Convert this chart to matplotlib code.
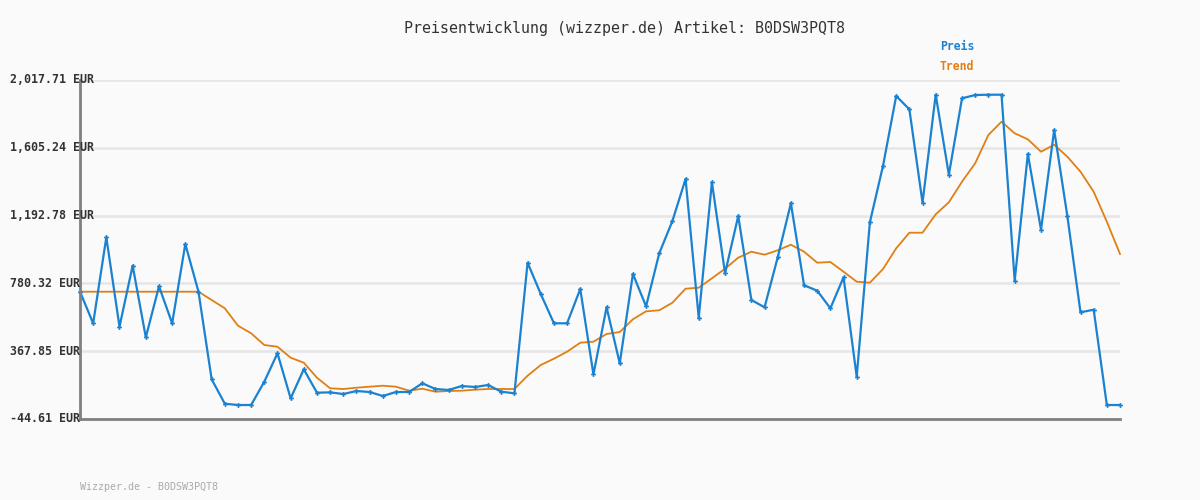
import numpy as np
import matplotlib
matplotlib.use("Agg")
import matplotlib.pyplot as plt
from matplotlib.transforms import blended_transform_factory

title = "Preisentwicklung (wizzper.de) Artikel: B0DSW3PQT8"
footer = "Wizzper.de - B0DSW3PQT8"
y_ticks = [-44.61, 367.85, 780.32, 1192.78, 1605.24, 2017.71]
y_labels = ["-44.61 EUR", "367.85 EUR", "780.32 EUR", "1,192.78 EUR",
            "1,605.24 EUR", "2,017.71 EUR"]

preis = [
    729.8, 537.6, 1060.7, 516.9, 888.0, 452.4, 762.6, 537.6, 1020.0, 729.8,
    196.9, 48.4, 40.5, 40.5, 182.3, 355.0, 81.3, 257.7, 115.4, 117.4,
    107.4, 125.7, 119.6, 95.3, 119.6, 119.6, 172.5, 137.9, 131.8, 156.1,
    150.0, 162.2, 121.4, 111.7, 906.2, 715.8, 537.6, 537.6, 746.2, 227.3,
    634.9, 294.2, 837.5, 641.0, 963.4, 1159.9, 1415.4, 571.7, 1395.3, 841.7,
    1190.3, 679.3, 634.9, 939.1, 1267.6, 768.7, 735.9, 628.8, 817.4, 212.7,
    1152.0, 1496.3, 1920.4, 1839.5, 1271.2, 1928.3, 1441.6, 1906.4, 1926.4, 1928.3,
    1928.3, 796.7, 1567.5, 1107.0, 1713.5, 1190.3, 604.5, 620.3, 40.5, 40.5,
]

trend = [
    729.8, 729.8, 729.8, 729.8, 729.8, 729.8, 729.8, 729.8, 729.8, 729.8,
    679.3, 628.8, 523.0, 476.7, 405.5, 395.2, 328.3, 297.9, 206.6, 142.1,
    137.9, 145.8, 151.9, 158.0, 151.9, 127.5, 139.7, 121.4, 125.7, 127.5,
    133.6, 137.9, 137.9, 137.9, 218.8, 283.9, 322.2, 364.8, 419.5, 425.6,
    472.5, 484.6, 561.9, 610.6, 616.6, 662.9, 748.1, 754.1, 811.3, 869.7,
    936.7, 973.2, 954.9, 981.7, 1015.7, 973.2, 906.2, 910.5, 851.5, 790.7,
    784.6, 867.9, 993.8, 1088.7, 1088.7, 1200.7, 1273.7, 1399.0, 1510.9, 1683.1,
    1764.0, 1693.4, 1656.9, 1581.5, 1624.1, 1551.1, 1459.8, 1338.2, 1155.7, 959.2,
]

blue = "#1a82d0"
orange = "#e07f14"
bg = "#fafafa"

fig = plt.figure(figsize=(12, 5), dpi=100, facecolor=bg)
ax = fig.add_axes([80 / 1200, 81 / 500, 1040 / 1200, 339 / 500], facecolor=bg)

x = np.arange(len(preis))
ax.plot(x, trend, color=orange, lw=1.3, zorder=3, clip_on=False)
ax.plot(x, preis, color=blue, lw=1.6, marker="P", ms=3.5, mew=0,
        zorder=4, clip_on=False)

ax.set_xlim(0, len(preis) - 1)
ax.set_ylim(y_ticks[0], y_ticks[-1])
ax.set_yticks(y_ticks)
ax.set_yticklabels([])
ax.set_xticks([])
ax.tick_params(length=0)
ax.grid(axis="y", color="#e6e6e6", lw=1.8, zorder=0)

for s in ["top", "right"]:
    ax.spines[s].set_visible(False)
for s in ["left", "bottom"]:
    ax.spines[s].set_color("#808080")
    ax.spines[s].set_linewidth(2)
    ax.spines[s].set_zorder(5)

mono = "DejaVu Sans Mono"
tr = blended_transform_factory(fig.transFigure, ax.transData)
for t, lab in zip(y_ticks, y_labels):
    ax.text(10 / 1200, t, lab, transform=tr, ha="left", va="center",
            fontsize=8.4, fontweight="bold", family=mono,
            color="#333333", zorder=6)

fig.text(624 / 1200, 1 - 28 / 500, title, ha="center", va="center",
         fontsize=10.8, family=mono, color="#333333")
fig.text(940 / 1200, 1 - 47 / 500, "Preis", ha="left", va="center",
         fontsize=8.3, fontweight="bold", family=mono, color=blue)
fig.text(940 / 1200, 1 - 67 / 500, "Trend", ha="left", va="center",
         fontsize=8.3, fontweight="bold", family=mono, color=orange)
fig.text(80 / 1200, 1 - 487 / 500, footer, ha="left", va="center",
         fontsize=7.2, family=mono, color="#aaaaaa")

fig.savefig("out.png", dpi=100, facecolor=bg)
